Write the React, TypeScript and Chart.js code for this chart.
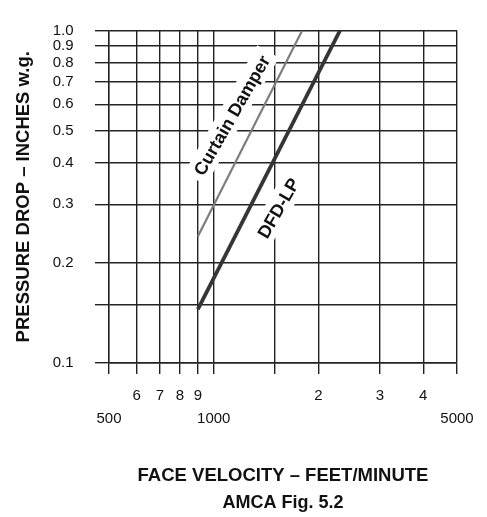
import { useEffect, useRef } from 'react';
import { Chart, registerables } from 'chart.js';

Chart.register(...registerables);

// ---- data ----
const X_TICKS = [500, 600, 700, 800, 900, 1000, 1500, 2000, 3000, 4000, 5000];
const X_TICK_LABELS = ['500', '6', '7', '8', '9', '1000', '', '2', '3', '4', '5000'];
const X_MAJOR_LABELS = ['500', '1000', '5000'];
const Y_TICKS = [0.1, 0.15, 0.2, 0.3, 0.4, 0.5, 0.6, 0.7, 0.8, 0.9, 1.0];
const Y_TICK_LABELS = ['0.1', '', '0.2', '0.3', '0.4', '0.5', '0.6', '0.7', '0.8', '0.9', '1.0'];

const SERIES_NAMES = ['Curtain Damper', 'DFD-LP'];
const CURTAIN_X = [900, 1795];
const CURTAIN_Y = [0.24, 1.0];
const DFD_X = [900, 2306];
const DFD_Y = [0.145, 1.0];

// label anchor positions (data coordinates)
const LABEL_X = [1128, 1535];
const LABEL_Y = [0.555, 0.292];

const FONT = '"Liberation Sans", Arial, Helvetica, sans-serif';
const INK = '#111111';
const GRID = '#222222';

const labelPlugin = {
  id: 'lineLabels',
  beforeDatasetsDraw(chart: any) {
    const { ctx, scales } = chart;
    const xs = scales.x;
    const ys = scales.y;
    ctx.save();
    ctx.font = `bold 18px ${FONT}`;
    SERIES_NAMES.forEach((name, i) => {
      const meta = chart.getDatasetMeta(i);
      const p0 = meta.data[0];
      const p1 = meta.data[meta.data.length - 1];
      const ang = Math.atan2(p1.y - p0.y, p1.x - p0.x) + (3 * Math.PI) / 180;
      const cx = xs.getPixelForValue(LABEL_X[i]);
      const cy = ys.getPixelForValue(LABEL_Y[i]);
      const w = ctx.measureText(name).width;
      ctx.save();
      ctx.translate(cx, cy);
      ctx.rotate(ang);
      ctx.fillStyle = '#ffffff';
      ctx.fillRect(-w / 2 - 6, -13, w + 12, 25);
      ctx.fillStyle = INK;
      ctx.textAlign = 'center';
      ctx.textBaseline = 'middle';
      ctx.fillText(name, 0, 1);
      ctx.restore();
    });
    ctx.restore();
  },
};

export default function App() {
  const ref = useRef<HTMLCanvasElement | null>(null);

  useEffect(() => {
    if (!ref.current) return;
    const chart = new Chart(ref.current, {
      type: 'line',
      data: {
        datasets: [
          {
            label: SERIES_NAMES[0],
            data: CURTAIN_X.map((x, i) => ({ x, y: CURTAIN_Y[i] })),
            borderColor: '#7d7d7d',
            borderWidth: 2.2,
            pointRadius: 0,
            tension: 0,
          },
          {
            label: SERIES_NAMES[1],
            data: DFD_X.map((x, i) => ({ x, y: DFD_Y[i] })),
            borderColor: '#353535',
            borderWidth: 3.8,
            pointRadius: 0,
            tension: 0,
          },
        ],
      },
      options: {
        animation: false,
        responsive: false,
        layout: { padding: { top: 16, right: 30, left: 0, bottom: 0 } },
        plugins: {
          legend: { display: false },
          tooltip: { enabled: false },
          title: {
            display: true,
            position: 'bottom',
            fullSize: false,
            text: 'AMCA Fig. 5.2',
            color: INK,
            font: { family: FONT, size: 18, weight: 'bold' },
            padding: { top: 0, bottom: 3 },
          },
        },
        scales: {
          x: {
            type: 'logarithmic',
            min: 500,
            max: 5000,
            afterBuildTicks: (s: any) => {
              s.ticks = X_TICKS.map((v) => ({ value: v }));
            },
            afterFit: (s: any) => {
              s.height = 129.4;
            },
            ticks: {
              autoSkip: false,
              maxRotation: 0,
              minRotation: 0,
              padding: 11,
              color: INK,
              font: { family: FONT, size: 15, lineHeight: 1.5 },
              callback: (_v: any, i: number) => {
                const l = X_TICK_LABELS[i];
                return X_MAJOR_LABELS.includes(l) ? ['', l] : l;
              },
            },
            grid: { color: GRID, lineWidth: 1.4, tickLength: 11, drawTicks: true },
            border: { color: GRID, width: 1.4 },
            title: {
              display: true,
              text: 'FACE VELOCITY – FEET/MINUTE',
              color: INK,
              font: { family: FONT, size: 18.5, weight: 'bold' },
              padding: { top: 0, bottom: 5 },
            },
          },
          y: {
            type: 'logarithmic',
            min: 0.1,
            max: 1.0,
            afterBuildTicks: (s: any) => {
              s.ticks = Y_TICKS.map((v) => ({ value: v }));
            },
            afterFit: (s: any) => {
              s.width = 109;
            },
            ticks: {
              autoSkip: false,
              padding: 21.5,
              color: INK,
              font: { family: FONT, size: 15 },
              callback: (_v: any, i: number) => Y_TICK_LABELS[i],
            },
            grid: { color: GRID, lineWidth: 1.4, tickLength: 14, drawTicks: true },
            border: { color: GRID, width: 1.4 },
            title: {
              display: true,
              text: 'PRESSURE DROP – INCHES w.g.',
              color: INK,
              font: { family: FONT, size: 18.5, weight: 'bold' },
              padding: { top: 13, bottom: 0 },
            },
          },
        },
      } as any,
      plugins: [labelPlugin],
    });
    return () => chart.destroy();
  }, []);

  return (
    <div style={{ position: 'fixed', left: 0, top: 0, width: 487, height: 517, background: '#fff' }}>
      <canvas ref={ref} width={487} height={517} style={{ display: 'block' }} />
    </div>
  );
}
